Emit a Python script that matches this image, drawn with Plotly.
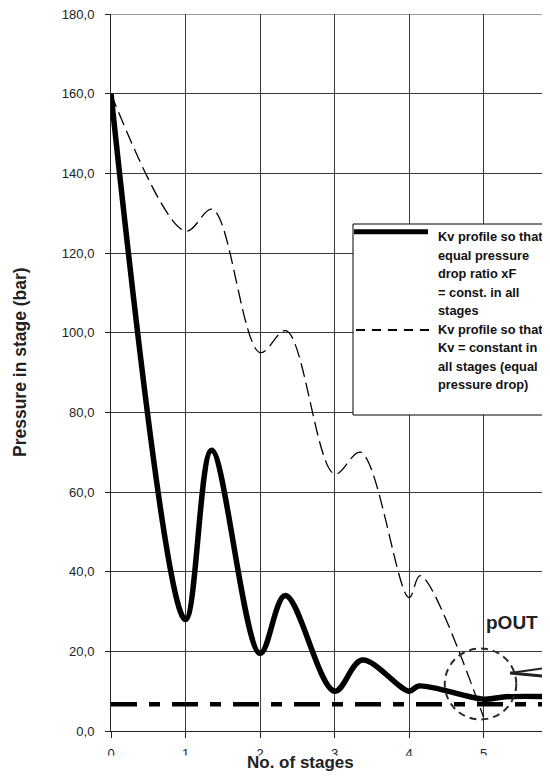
import plotly.graph_objects as go

# ---------------- data ----------------
stage_xf = [0, 1, 1.35, 2, 2.34, 3, 3.37, 4, 4.13, 5, 5.3, 6]
pressure_xf = [160, 28, 70.5, 19.5, 34, 10, 17.8, 10, 11.3, 8.0, 8.6, 8.6]

stage_kv = [0, 1, 1.36, 2, 2.35, 3, 3.35, 4, 4.15, 5]
pressure_kv = [160, 125.5, 131, 95, 100.5, 64.5, 70, 33.5, 39, 3.5]

pout_stages = [0, 6]
pout_pressure = [6.7, 6.7]

y_tickvals = [0, 20, 40, 60, 80, 100, 120, 140, 160, 180]
y_ticktext = ["0,0", "20,0", "40,0", "60,0", "80,0", "100,0", "120,0", "140,0", "160,0", "180,0"]
x_tickvals = [0, 1, 2, 3, 4, 5, 6]
x_ticktext = ["0", "1", "2", "3", "4", "5", "6"]

name_xf = "Kv profile so that<br>equal pressure<br>drop ratio xF<br>= const. in all<br>stages"
name_kv = "Kv profile so that<br>Kv = constant in<br>all stages (equal<br>pressure drop)"

# ---------------- geometry (page pixels; page body has an 8px margin) ----------------
OFF = 8
PAGE_W, PAGE_H = 550, 777
W, H = PAGE_W - OFF, PAGE_H - OFF
PLOT_L, PLOT_R, PLOT_T, PLOT_B = 111, 550, 14, 731          # page pixels
ML, MR, MT, MB = PLOT_L - OFF, 0, PLOT_T - OFF, H - (PLOT_B - OFF)
PW, PH = PLOT_R - PLOT_L, PLOT_B - PLOT_T


def px(xp):
    return (xp - PLOT_L) / PW


def py(yp):
    return (PLOT_B - yp) / PH


BOLD = "Liberation Sans, Arial, Helvetica, sans-serif"
REG = "Liberation Sans, Arial, sans-serif"
GRID = "#3a3a3a"

fig = go.Figure()
fig.add_trace(go.Scatter(x=pout_stages, y=pout_pressure, mode="lines", name="pOUT",
                         line=dict(color="black", width=4.5, dash="26px,12px,11px,12px"),
                         showlegend=False))
fig.add_trace(go.Scatter(x=stage_kv, y=pressure_kv, mode="lines", name=name_kv,
                         line=dict(color="black", width=1.3, dash="14px,6px", shape="spline", smoothing=1),
                         showlegend=False))
fig.add_trace(go.Scatter(x=stage_xf, y=pressure_xf, mode="lines", name=name_xf,
                         line=dict(color="black", width=5.5, shape="spline", smoothing=1),
                         showlegend=False))

shapes = []
# top gridline (180,0) with its tick
shapes.append(dict(type="line", xref="paper", yref="y", x0=px(106), x1=px(PAGE_W + 5), y0=180, y1=180,
                   line=dict(color=GRID, width=1), layer="below"))
# pOUT circle and pointer
shapes.append(dict(type="circle", xref="x", yref="y", x0=4.48, x1=5.44, y0=2.9, y1=20.7,
                   line=dict(color="#2a2a2a", width=2, dash="7px,5px")))
shapes.append(dict(type="line", xref="paper", yref="paper", x0=px(510), y0=py(673), x1=px(552), y1=py(667),
                   line=dict(color="#222", width=2)))
shapes.append(dict(type="line", xref="paper", yref="paper", x0=px(510), y0=py(673), x1=px(552), y1=py(677),
                   line=dict(color="#222", width=3)))
# legend box
shapes.append(dict(type="rect", xref="paper", yref="paper", x0=px(353), x1=px(560), y0=py(415), y1=py(224),
                   fillcolor="white", line=dict(color="black", width=1), layer="above"))
shapes.append(dict(type="line", xref="paper", yref="paper", x0=px(354), x1=px(428), y0=py(231.7), y1=py(231.7),
                   line=dict(color="black", width=5)))
shapes.append(dict(type="line", xref="paper", yref="paper", x0=px(356), x1=px(430), y0=py(330), y1=py(330),
                   line=dict(color="black", width=1.8, dash="9px,7px")))
# white band that hides the lower half of the x tick labels (as in the reference)
shapes.append(dict(type="rect", xref="paper", yref="paper", x0=px(0), x1=px(PAGE_W + 5), y0=py(PAGE_H + 5),
                   y1=py(755.5), fillcolor="white", line=dict(width=0), layer="above"))

annotations = []
for i, t in enumerate(name_xf.split("<br>")):
    annotations.append(dict(text=t, xref="paper", yref="paper", x=px(436), y=py(236.7 + 18.55 * i),
                            xanchor="left", yanchor="middle", showarrow=False,
                            font=dict(family=BOLD, size=12.8, color="#111", weight="bold")))
for i, t in enumerate(name_kv.split("<br>")):
    annotations.append(dict(text=t, xref="paper", yref="paper", x=px(436), y=py(329 + 18.55 * i),
                            xanchor="left", yanchor="middle", showarrow=False,
                            font=dict(family=BOLD, size=12.8, color="#111", weight="bold")))
annotations.append(dict(text="pOUT", xref="paper", yref="paper", x=px(512), y=py(622),
                        xanchor="center", yanchor="middle", showarrow=False,
                        font=dict(family=BOLD, size=19, color="#222", weight="bold")))
annotations.append(dict(text="No. of stages", xref="paper", yref="paper", x=px(300), y=py(763),
                        xanchor="center", yanchor="middle", showarrow=False,
                        font=dict(family=BOLD, size=17, color="#222", weight="bold")))
annotations.append(dict(text="Pressure in stage (bar)", xref="paper", yref="paper", x=px(20), y=py(362),
                        xanchor="center", yanchor="middle", showarrow=False, textangle=-90,
                        font=dict(family=BOLD, size=17.5, color="#222", weight="bold")))

fig.update_layout(
    width=W, height=H, autosize=False,
    margin=dict(l=ML, r=MR, t=MT, b=MB, pad=0),
    paper_bgcolor="white", plot_bgcolor="white",
    showlegend=False,
    shapes=shapes, annotations=annotations,
    xaxis=dict(range=[0, PW / 74.5], tickvals=x_tickvals, ticktext=x_ticktext,
               showgrid=True, gridcolor=GRID, gridwidth=1,
               showline=True, linecolor="#222", linewidth=1,
               ticks="outside", ticklen=6, tickcolor="#222", ticklabelstandoff=4,
               tickfont=dict(family=REG, size=13, color="#222"),
               ticklabeloverflow="allow",
               zeroline=False, fixedrange=True),
    yaxis=dict(range=[0, 180], tickvals=y_tickvals, ticktext=y_ticktext,
               showgrid=True, gridcolor=GRID, gridwidth=1,
               showline=True, linecolor="#222", linewidth=1,
               ticks="outside", ticklen=5, tickcolor="#222", ticklabelstandoff=8,
               tickfont=dict(family=REG, size=13, color="#222"),
               ticklabeloverflow="allow",
               zeroline=False, fixedrange=True),
)

fig.write_html("out.html")
